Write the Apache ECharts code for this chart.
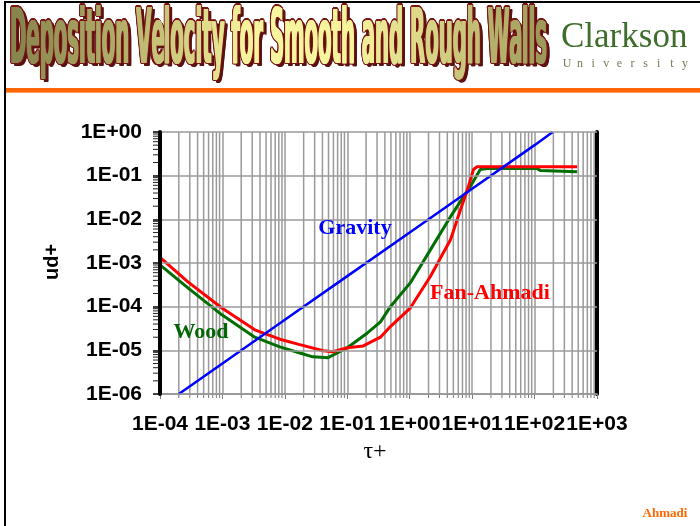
<!DOCTYPE html>
<html>
<head>
<meta charset="utf-8">
<script src="https://cdn.jsdelivr.net/npm/echarts@6/dist/echarts.min.js"></script>
<style>
  html, body { margin: 0; padding: 0; background: #ffffff; }
  #chart { width: 700px; height: 526px; }
</style>
</head>
<body>
<div id="chart"></div>
<script>
// Dimensionless particle relaxation time tau+ and deposition velocity ud+
const fanAhmadiTau = [1e-4, 2.8e-4, 9.8e-4, 3.3e-3, 8.3e-3, 1.74e-2, 4.1e-2, 5.9e-2, 0.1, 0.18, 0.34, 0.49, 1.02, 2.14, 4.5, 6.5, 8.7, 10.5, 12, 480];
const fanAhmadiUd  = [1.35e-3, 3.7e-4, 9.3e-5, 2.95e-5, 1.8e-5, 1.35e-5, 9.8e-6, 9.3e-6, 1.15e-5, 1.26e-5, 2.0e-5, 3.5e-5, 9.3e-5, 4.9e-4, 3.4e-3, 1.66e-2, 5.6e-2, 0.138, 0.16, 0.16];

const woodTau = [1e-4, 2.8e-4, 9.8e-4, 3.3e-3, 8.3e-3, 1.74e-2, 2.8e-2, 4.9e-2, 6.9e-2, 0.1, 0.21, 0.34, 0.49, 1.02, 2.14, 4.5, 9.3, 13.5, 17.4, 110, 123, 480];
const woodUd  = [9.1e-4, 2.7e-4, 6.5e-5, 2.0e-5, 1.2e-5, 8.7e-6, 7.1e-6, 6.8e-6, 8.7e-6, 1.15e-5, 2.5e-5, 4.5e-5, 1.0e-4, 3.5e-4, 2.0e-3, 1.15e-2, 5.6e-2, 0.138, 0.145, 0.145, 0.132, 0.123];

const gravityTau = [2e-4, 1e-3, 1e-2, 0.1, 1, 10, 100, 195];
const gravityUd  = [1e-6, 5e-6, 5e-5, 5e-4, 5e-3, 5e-2, 0.5, 1];

const xTickLabels = ['1E-04', '1E-03', '1E-02', '1E-01', '1E+00', '1E+01', '1E+02', '1E+03'];
const yTickLabels = ['1E-06', '1E-05', '1E-04', '1E-03', '1E-02', '1E-01', '1E+00'];

const X_MIN_EXP = -4, X_MAX_EXP = 3, Y_MIN_EXP = -6, Y_MAX_EXP = 0;

function zip(a, b) { return a.map((v, i) => [v, b[i]]); }

// intermediate decade positions (2..9 x 10^k) for the log grid
function minorValues(lo, hi) {
  const out = [];
  for (let k = lo; k < hi; k++) {
    for (let m = 2; m <= 9; m++) out.push(m * Math.pow(10, k));
  }
  return out;
}
const minorX = minorValues(X_MIN_EXP, X_MAX_EXP);
const minorY = minorValues(Y_MIN_EXP, Y_MAX_EXP);

const chart = echarts.init(document.getElementById('chart'), null, { renderer: 'canvas' });

// ---------- heading ----------
const titleText = 'Deposition Velocity for Smooth and Rough Walls';
const titleFont = 'bold 76px "Liberation Sans Narrow", "DejaVu Sans Condensed", "Liberation Sans", sans-serif';
const mctx = document.createElement('canvas').getContext('2d');
mctx.font = titleFont;
const fullW = mctx.measureText(titleText).width;
const titleLeft = 10, titleRight = 547, titleMidY = 43;
const sx = (titleRight - titleLeft) / fullW;

const gradStops = [
  [0.00, [0x86, 0x82, 0x4c]],
  [0.22, [0xb6, 0xb2, 0x6c]],
  [0.45, [0xf7, 0xf5, 0x9e]],
  [0.64, [0xf5, 0xf3, 0x9c]],
  [0.82, [0xcf, 0xcb, 0x80]],
  [1.00, [0x9a, 0x96, 0x58]]
];
function gradColor(t) {
  for (let i = 1; i < gradStops.length; i++) {
    if (t <= gradStops[i][0]) {
      const a = gradStops[i - 1], b = gradStops[i];
      const f = (t - a[0]) / (b[0] - a[0]);
      const c = a[1].map((v, j) => Math.round(v + (b[1][j] - v) * f));
      return 'rgb(' + c.join(',') + ')';
    }
  }
  return 'rgb(' + gradStops[gradStops.length - 1][1].join(',') + ')';
}

const titleParts = [];
function wholeTitle(dx, dy, color) {
  titleParts.push({
    type: 'text', x: titleLeft + dx, y: titleMidY + dy, scaleX: sx, silent: true,
    style: { text: titleText, font: titleFont, fill: color, textAlign: 'left', textVerticalAlign: 'middle' }
  });
}
// drop shadow
[[2.5, 2.5], [3.5, 3.5], [3.5, 2.5], [2.5, 3.5]].forEach(o => wholeTitle(o[0], o[1], '#5a1212'));
// dark red outline
for (let a = 0; a < 16; a++) {
  const ang = a * Math.PI / 8;
  wholeTitle(1.4 * Math.cos(ang), 1.4 * Math.sin(ang), '#7a1616');
}
// letter bodies with a horizontal colour sweep
for (let i = 0; i < titleText.length; i++) {
  const ch = titleText[i];
  if (ch === ' ') continue;
  const pre = mctx.measureText(titleText.slice(0, i)).width;
  const w = mctx.measureText(ch).width;
  const col = gradColor((pre + w / 2) / fullW);
  [-0.5, 0, 0.5].forEach(dx => {
    titleParts.push({
      type: 'text', x: titleLeft + pre * sx + dx, y: titleMidY, scaleX: sx, silent: true,
      style: { text: ch, font: titleFont, fill: col, textAlign: 'left', textVerticalAlign: 'middle' }
    });
  });
}

// university wordmark
const uniLetters = 'University'.split('');
const uniParts = uniLetters.map((ch, i) => ({
  type: 'text', x: 567 + i * 13.1, y: 64, silent: true,
  style: { text: ch, fontFamily: 'Liberation Serif', fontSize: 12, fill: '#6f7d58', textAlign: 'center', textVerticalAlign: 'middle' }
}));

const seriesNameStyle = { fontFamily: 'Liberation Serif', fontSize: 22, fontWeight: 'bold', textAlign: 'center', textVerticalAlign: 'middle' };

const option = {
  animation: false,
  backgroundColor: '#ffffff',
  grid: { left: 160, top: 132, width: 437, height: 262, containLabel: false },
  xAxis: {
    type: 'log', logBase: 10, min: 1e-4, max: 1e3,
    axisLine: { show: true, onZero: false, lineStyle: { color: '#7a7a7a', width: 1.5 } },
    axisTick: { show: true, length: 5, lineStyle: { color: '#7a7a7a', width: 1 } },
    splitLine: { show: true, lineStyle: { color: '#9a9a9a', width: 1.5 } },
    axisLabel: {
      margin: 20, color: '#000', fontFamily: 'Liberation Sans', fontWeight: 'bold', fontSize: 21,
      showMinLabel: true, showMaxLabel: true, hideOverlap: false,
      formatter: v => xTickLabels[Math.round(Math.log10(v)) - X_MIN_EXP] || ''
    }
  },
  yAxis: [{
    type: 'log', logBase: 10, min: 1e-6, max: 1,
    axisLine: { show: true, onZero: false, lineStyle: { color: '#000', width: 4 } },
    axisTick: { show: true, length: 7, lineStyle: { color: '#000', width: 1.5 } },
    splitLine: { show: true, lineStyle: { color: '#9a9a9a', width: 1.5 } },
    axisLabel: {
      margin: 18, color: '#000', fontFamily: 'Liberation Sans', fontWeight: 'bold', fontSize: 21,
      showMinLabel: true, showMaxLabel: true,
      formatter: v => yTickLabels[Math.round(Math.log10(v)) - Y_MIN_EXP] || ''
    },
    z: 5
  }, {
    type: 'log', logBase: 10, min: 1e-6, max: 1, position: 'right',
    axisLine: { show: true, onZero: false, lineStyle: { color: '#000', width: 4 } },
    axisTick: { show: false }, axisLabel: { show: false }, splitLine: { show: false }
  }],
  series: [
    {
      name: 'minor-x', type: 'custom', silent: true, z: 1,
      data: minorX.map(v => [v, 1e-6]),
      renderItem: (params, api) => {
        const cs = params.coordSys;
        const p = api.coord([api.value(0), 1e-6]);
        const yb = cs.y + cs.height;
        return { type: 'group', children: [
          { type: 'line', shape: { x1: p[0], y1: cs.y, x2: p[0], y2: yb }, style: { stroke: '#9a9a9a', lineWidth: 1.5 } },
          { type: 'line', shape: { x1: p[0], y1: yb, x2: p[0], y2: yb + 4 }, style: { stroke: '#7a7a7a', lineWidth: 1 } }
        ] };
      }
    },
    {
      name: 'minor-y', type: 'custom', silent: true, z: 6,
      data: minorY.map(v => [1e-4, v]),
      renderItem: (params, api) => {
        const p = api.coord([1e-4, api.value(1)]);
        return { type: 'line', shape: { x1: p[0] - 7, y1: p[1], x2: p[0] - 1, y2: p[1] }, style: { stroke: '#222', lineWidth: 1 } };
      }
    },
    {
      name: 'Wood', type: 'line', data: zip(woodTau, woodUd), showSymbol: false, z: 3,
      lineStyle: { color: '#006e00', width: 3 }, itemStyle: { color: '#006e00' }
    },
    {
      name: 'Fan-Ahmadi', type: 'line', data: zip(fanAhmadiTau, fanAhmadiUd), showSymbol: false, z: 3,
      lineStyle: { color: '#ff0000', width: 3 }, itemStyle: { color: '#ff0000' }
    },
    {
      name: 'Gravity', type: 'line', data: zip(gravityTau, gravityUd), showSymbol: false, z: 4,
      lineStyle: { color: '#0000ff', width: 2.5 }, itemStyle: { color: '#0000ff' }
    }
  ],
  graphic: [
    // page frame and rule
    { type: 'line', silent: true, shape: { x1: 4, y1: 2, x2: 700, y2: 2 }, style: { stroke: '#000', lineWidth: 2 } },
    { type: 'line', silent: true, shape: { x1: 5, y1: 1, x2: 5, y2: 526 }, style: { stroke: '#000', lineWidth: 2 } },
    { type: 'rect', silent: true, shape: { x: 6, y: 88, width: 694, height: 4 }, style: { fill: '#ff6600' } },
    { type: 'rect', silent: true, shape: { x: 6, y: 92, width: 694, height: 1 }, style: { fill: '#ffa060' } },
    ...titleParts,
    { type: 'text', x: 561, y: 38, silent: true,
      style: { text: 'Clarkson', fontFamily: 'Liberation Serif', fontSize: 35, fill: '#3f6e2c', textAlign: 'left', textVerticalAlign: 'middle' } },
    ...uniParts,
    // axis titles
    { type: 'text', x: 375, y: 452, silent: true,
      style: { text: 'τ+', fontFamily: 'Liberation Serif', fontSize: 24, fill: '#000', textAlign: 'center', textVerticalAlign: 'middle' } },
    { type: 'text', x: 52, y: 262, rotation: Math.PI / 2, silent: true,
      style: { text: 'ud+', fontFamily: 'Liberation Sans', fontWeight: 'bold', fontSize: 20, fill: '#000', textAlign: 'center', textVerticalAlign: 'middle' } },
    // curve names
    { type: 'text', x: 355, y: 228, silent: true, z: 10, style: Object.assign({ text: 'Gravity', fill: '#0000ff' }, seriesNameStyle) },
    { type: 'text', x: 201, y: 332, silent: true, z: 10, style: Object.assign({ text: 'Wood', fill: '#006600' }, seriesNameStyle) },
    { type: 'text', x: 490, y: 293, silent: true, z: 10, style: Object.assign({ text: 'Fan-Ahmadi', fill: '#ff0000' }, seriesNameStyle) },
    // author
    { type: 'text', x: 665, y: 514, silent: true,
      style: { text: 'Ahmadi', fontFamily: 'Liberation Serif', fontWeight: 'bold', fontSize: 13, fill: '#ff6600', textAlign: 'center', textVerticalAlign: 'middle' } }
  ]
};

chart.setOption(option);
</script>
</body>
</html>
